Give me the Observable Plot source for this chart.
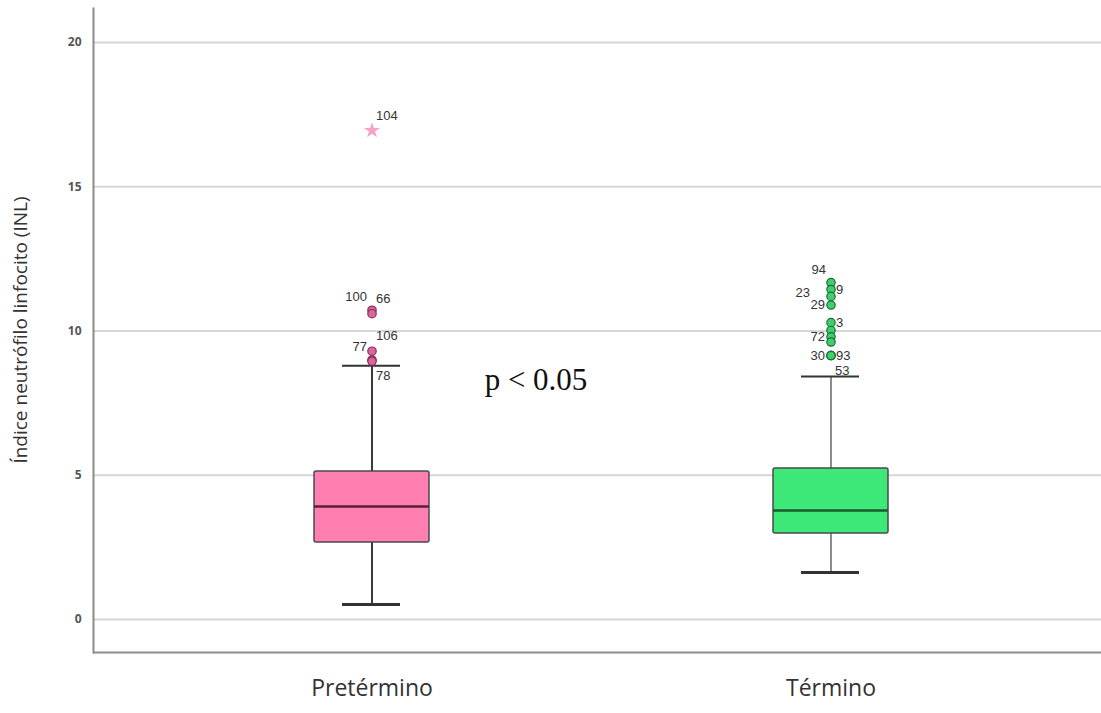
<!DOCTYPE html>
<html>
<head>
<meta charset="utf-8">
<script src="https://cdn.jsdelivr.net/npm/d3@7"></script>
<script src="https://cdn.jsdelivr.net/npm/@observablehq/plot@0.6"></script>
<style>
  html, body { margin: 0; padding: 0; background: #fff; }
  #chart { width: 1101px; height: 713px; }
</style>
</head>
<body>
<div id="chart"></div>
<script>
// ---- data ----
const categories = ["Pretérmino", "Término"];
const whiskerLow = [0.52, 1.63];
const q1 = [2.67, 2.98];
const median = [3.92, 3.78];
const q3 = [5.13, 5.23];
const whiskerHigh = [8.8, 8.42];
const yTicks = [0, 5, 10, 15, 20];

// outliers: group, case id, value, label side, kind
const outlierGroup = ["Pretérmino","Pretérmino","Pretérmino","Pretérmino","Pretérmino","Pretérmino",
                      "Término","Término","Término","Término","Término","Término","Término","Término","Término","Término","Término"];
const outlierId    = ["104","100","66","106","77","78",
                      "94","9","23","29","3","","72","","30","93","53"];
const outlierValue = [16.95, 10.72, 10.6, 9.3, 9.0, 8.95,
                      11.68, 11.44, 11.2, 10.9, 10.29, 10.02, 9.8, 9.62, 9.15, 9.15, 9.15];
const outlierSide  = ["tr","tl","tr","tr","tl","br",
                      "tl","r","ll","l","r","","l","","l","r","br"];
const outlierKind  = ["star","circle","circle","circle","circle","circle",
                      "circle","circle","circle","circle","circle","circle","circle","circle","circle","circle","circle"];
const pText = "p < 0.05";
const pValuePos = 8.2;

// ---- build tables ----
const boxes = categories.map((c, i) => ({cat: c, lo: whiskerLow[i], q1: q1[i], med: median[i], q3: q3[i], hi: whiskerHigh[i]}));
const outliers = outlierId.map((id, i) => ({group: outlierGroup[i], id, value: outlierValue[i], side: outlierSide[i], kind: outlierKind[i]}));

const boxFill = {"Pretérmino": "#ff80b0", "Término": "#3ee878"};
const medColor = {"Pretérmino": "#5c1f38", "Término": "#1b5a2c"};
const whiskColor = {"Pretérmino": "#3a3a3a", "Término": "#8c8c8c"};
const dotFill = {"Pretérmino": "#d9669c", "Término": "#3fcf6c"};
const dotStroke = {"Pretérmino": "#8a2c57", "Término": "#1f6b37"};

const labelFont = {fontSize: 13, fontFamily: "Liberation Sans, Arial, sans-serif", fill: "#333"};
const circles = outliers.filter(d => d.kind === "circle");
const stars = outliers.filter(d => d.kind === "star");
const bySide = s => outliers.filter(d => d.side === s && d.id);

const plot = Plot.plot({
  width: 1101,
  height: 713,
  marginLeft: 93,
  marginRight: 0,
  marginTop: 8,
  marginBottom: 61,
  style: {fontFamily: "Open Sans, sans-serif", background: "#fff", color: "#333"},
  x: {type: "band", domain: categories, paddingInner: 0.749, paddingOuter: 0.4725, align: 0.51, label: null},
  y: {domain: [-1.144, 21.18], label: null},
  marks: [
    Plot.ruleY(yTicks, {stroke: "#d6d6d6", strokeWidth: 2}),
    Plot.axisY({ticks: yTicks, tickSize: 0, tickPadding: 12, fontSize: 12, fontWeight: "bold", fill: "#555", label: null}),
    Plot.axisX({tickSize: 0, tickPadding: 27, fontSize: 23, fill: "#333", label: null}),
    Plot.ruleY([-1.144], {stroke: "#8c8c8c", strokeWidth: 2}),
    Plot.frame({anchor: "left", stroke: "#8c8c8c", strokeWidth: 2}),
    // whiskers
    Plot.ruleX(boxes, {x: "cat", y1: "lo", y2: "q1", stroke: d => whiskColor[d.cat], strokeWidth: 2}),
    Plot.ruleX(boxes, {x: "cat", y1: "q3", y2: "hi", stroke: d => whiskColor[d.cat], strokeWidth: 2}),
    Plot.tickY(boxes, {x: "cat", y: "lo", insetLeft: 28, insetRight: 29, stroke: "#333", strokeWidth: 3}),
    Plot.tickY(boxes, {x: "cat", y: "hi", insetLeft: 28, insetRight: 29, stroke: "#333", strokeWidth: 2}),
    // boxes
    Plot.barY(boxes, {x: "cat", y1: "q1", y2: "q3", fill: d => boxFill[d.cat], stroke: "#4a4a4a", strokeWidth: 1.5, rx: 2}),
    Plot.tickY(boxes, {x: "cat", y: "med", stroke: d => medColor[d.cat], strokeWidth: 2.5}),
    // outliers
    Plot.dot(circles, {x: "group", y: "value", r: 4.2, fill: d => dotFill[d.group], stroke: d => dotStroke[d.group], strokeWidth: 1.2}),
    Plot.dot(stars, {x: "group", y: "value", symbol: "star", r: 5, fill: "#f4a3c6", stroke: "none"}),
    // outlier labels
    Plot.text(bySide("tr"), {x: "group", y: "value", text: "id", dx: 4, dy: -15, textAnchor: "start", ...labelFont}),
    Plot.text(bySide("tl"), {x: "group", y: "value", text: "id", dx: -5, dy: -13, textAnchor: "end", ...labelFont}),
    Plot.text(bySide("l"), {x: "group", y: "value", text: "id", dx: -6, dy: 0, textAnchor: "end", ...labelFont}),
    Plot.text(bySide("ll"), {x: "group", y: "value", text: "id", dx: -21, dy: -4, textAnchor: "end", ...labelFont}),
    Plot.text(bySide("r"), {x: "group", y: "value", text: "id", dx: 5, dy: 0, textAnchor: "start", ...labelFont}),
    Plot.text(bySide("br"), {x: "group", y: "value", text: "id", dx: 4, dy: 15, textAnchor: "start", ...labelFont}),
    // p-value annotation
    Plot.text([pText], {x: () => categories[0], y: () => pValuePos, text: d => d, dx: 164, dy: -3, fontSize: 31, fontFamily: "Liberation Serif, Times New Roman, serif", fill: "#111"})
  ]
});

// y-axis title
const svg = d3.select(plot);
svg.append("text")
  .attr("transform", "translate(22,330) rotate(-90)")
  .attr("text-anchor", "middle")
  .attr("dominant-baseline", "middle")
  .attr("font-family", "Open Sans, sans-serif")
  .attr("font-size", 19)
  .attr("fill", "#333")
  .text("Índice neutrófilo linfocito (INL)");

document.getElementById("chart").appendChild(plot);
</script>
</body>
</html>
